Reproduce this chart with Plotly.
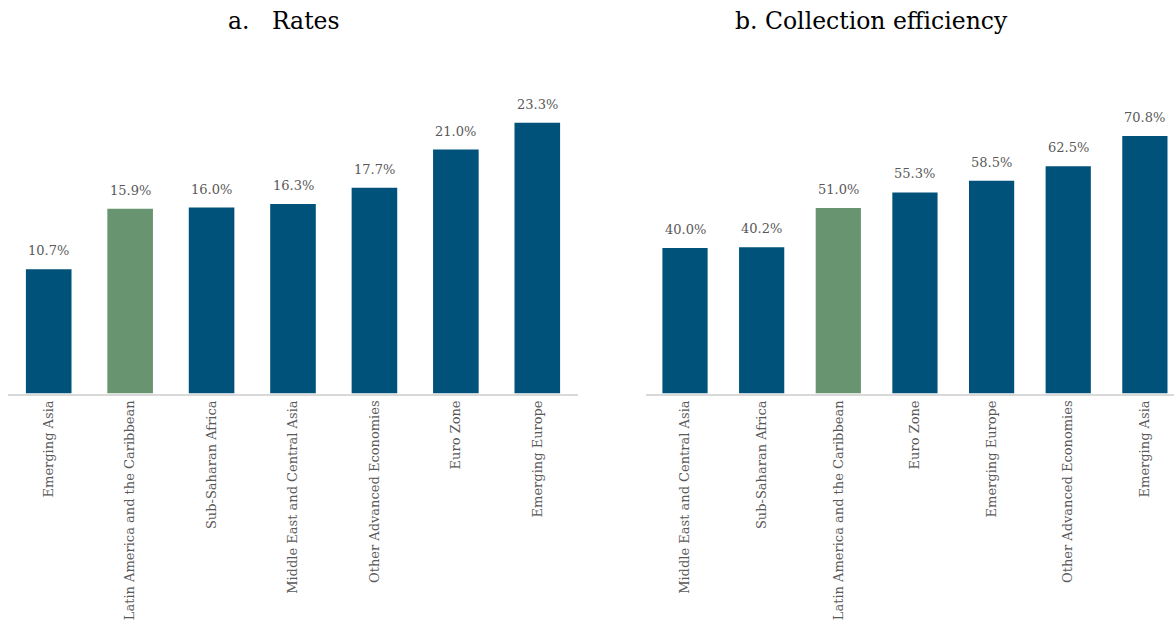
import plotly.graph_objects as go

# Panel a: rates
rate_regions = ["Emerging Asia", "Latin America and the Caribbean", "Sub-Saharan Africa",
                "Middle East and Central Asia", "Other Advanced Economies", "Euro Zone",
                "Emerging Europe"]
rate_values = [10.7, 15.9, 16.0, 16.3, 17.7, 21.0, 23.3]

# Panel b: collection efficiency
eff_regions = ["Middle East and Central Asia", "Sub-Saharan Africa",
               "Latin America and the Caribbean", "Euro Zone", "Emerging Europe",
               "Other Advanced Economies", "Emerging Asia"]
eff_values = [40.0, 40.2, 51.0, 55.3, 58.5, 62.5, 70.8]

highlight = "Latin America and the Caribbean"
BLUE = "#00527A"
GREEN = "#68946F"
LABEL_GREY = "#595959"
FONT = "DejaVu Serif"

W, H = 1174, 620


def colors(regions):
    return [GREEN if r == highlight else BLUE for r in regions]


fig = go.Figure()
fig.add_trace(go.Bar(x=rate_regions, y=rate_values, marker_color=colors(rate_regions),
                     marker_line_width=0, width=0.56, xaxis="x", yaxis="y",
                     hoverinfo="x+y"))
fig.add_trace(go.Bar(x=eff_regions, y=eff_values, marker_color=colors(eff_regions),
                     marker_line_width=0, width=0.59, xaxis="x2", yaxis="y2",
                     hoverinfo="x+y"))

annotations = []
for xs, ys, xref, yref in [(rate_regions, rate_values, "x", "y"),
                           (eff_regions, eff_values, "x2", "y2")]:
    for c, v in zip(xs, ys):
        annotations.append(dict(x=c, y=v, xref=xref, yref=yref, text=f"{v:.1f}%",
                                showarrow=False, yanchor="bottom", yshift=9,
                                font=dict(family=FONT, size=13, color=LABEL_GREY)))

annotations.append(dict(x=284 / W, y=1 - 21 / H, xref="paper", yref="paper",
                        text="a.&nbsp;&nbsp;&nbsp;Rates", showarrow=False,
                        xanchor="center", yanchor="middle",
                        font=dict(family=FONT, size=23.5, color="#000000")))
annotations.append(dict(x=871 / W, y=1 - 21 / H, xref="paper", yref="paper",
                        text="b. Collection efficiency", showarrow=False,
                        xanchor="center", yanchor="middle",
                        font=dict(family=FONT, size=23.5, color="#000000")))

y_domain = [1 - 393.5 / H, 1 - 31 / H]
xcommon = dict(showgrid=False, zeroline=False, showline=True, linecolor="#D9D9D9",
               linewidth=1.5, ticks="", tickangle=-90,
               tickfont=dict(family=FONT, size=13, color=LABEL_GREY), fixedrange=True)
ycommon = dict(showgrid=False, zeroline=False, showline=False, showticklabels=False,
               ticks="", domain=y_domain, fixedrange=True)

fig.update_layout(
    width=W, height=H,
    margin=dict(l=0, r=0, t=0, b=0),
    paper_bgcolor="white", plot_bgcolor="white",
    showlegend=False,
    font=dict(family=FONT),
    xaxis=dict(domain=[8 / W, 578 / W], range=[-0.5, 6.5], anchor="y", **xcommon),
    yaxis=dict(range=[0, 31.2], anchor="x", **ycommon),
    xaxis2=dict(domain=[646 / W, 1.0], range=[-0.509, 6.38], anchor="y2", **xcommon),
    yaxis2=dict(range=[0, 99.7], anchor="x2", **ycommon),
    annotations=annotations,
)

fig.write_html("out.html")
